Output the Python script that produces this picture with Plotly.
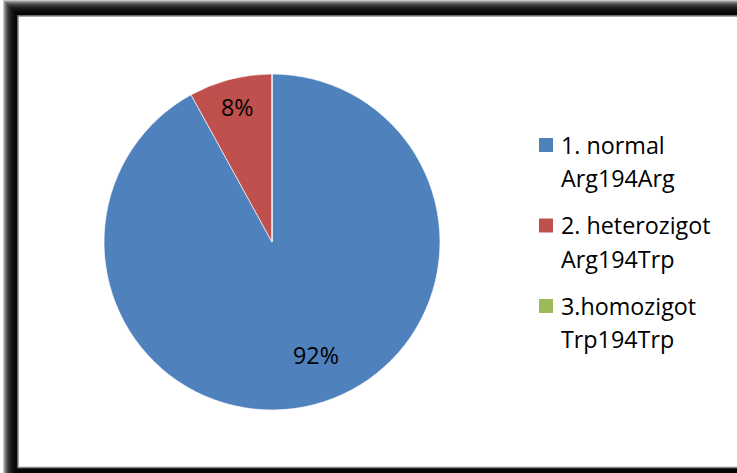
import math
import plotly.graph_objects as go

# Genotype distribution (percent of samples)
labels = ["1. normal<br>Arg194Arg", "2. heterozigot<br>Arg194Trp", "3.homozigot<br>Trp194Trp"]
values = [92, 8, 0]
colors = ["#4F81BD", "#C0504D", "#9BBB59"]

W, H = 737, 473
FONT = "Open Sans"
FS = 23.3

# pie geometry in pixels
CX, CY, R = 272, 242, 168


def px(x):
    return x / W


def py(y):
    return 1 - y / H


fig = go.Figure()
fig.add_trace(go.Pie(
    labels=labels,
    values=values,
    marker=dict(colors=colors, line=dict(color="rgba(255,255,255,0.8)", width=0.8)),
    sort=False,
    direction="clockwise",
    rotation=0,
    textinfo="none",
    hoverinfo="label+percent",
    showlegend=False,
    domain=dict(x=[px(CX - R), px(CX + R)], y=[py(CY + R), py(CY - R)]),
))

shapes = []
# soft dark frame with a shadow gradient on the top and left
for i in range(14):
    shapes.append(dict(
        type="rect", xref="paper", yref="paper", layer="below",
        x0=px(3 + i), y0=py(H + 20), x1=px(W + 20), y1=py(i),
        fillcolor="rgba(0,0,0,0.22)", line=dict(width=0),
    ))
# inner white panel
shapes.append(dict(
    type="rect", xref="paper", yref="paper", layer="below",
    x0=px(18), y0=py(467.5), x1=px(W + 20), y1=py(16),
    fillcolor="white", line=dict(color="#8a8a8a", width=1.5),
))

annotations = []
# percentage labels placed along each slice's mid angle
label_r = [0.72, 0.83, 0.0]
label_shift = [-7, 0, 0]  # degrees
total = sum(values)
start = 0.0
for v, rr, sh in zip(values, label_r, label_shift):
    frac = v / total
    if v > 0:
        mid = math.radians((start + frac / 2) * 360 + sh)
        # clockwise from 12 o'clock
        tx = CX + rr * R * math.sin(mid)
        ty = CY - rr * R * math.cos(mid)
        annotations.append(dict(
            x=px(tx), y=py(ty), xref="paper", yref="paper",
            text=f"{v / total * 100:.0f}%", showarrow=False,
            font=dict(family=FONT, size=FS, color="black"),
            xanchor="center", yanchor="middle",
        ))
    start += frac

# legend: colored squares with two-line labels
LEG_X, LEG_Y0, LEG_STEP, LINE_GAP = 539, 145, 80.5, 33
for k, (lab, col) in enumerate(zip(labels, colors)):
    yc = LEG_Y0 + k * LEG_STEP
    shapes.append(dict(
        type="rect", xref="paper", yref="paper",
        x0=px(LEG_X), x1=px(LEG_X + 14), y0=py(yc + 7), y1=py(yc - 7),
        fillcolor=col, line=dict(width=0),
    ))
    for j, part in enumerate(lab.split("<br>")):
        annotations.append(dict(
            x=px(LEG_X + 20), y=py(yc + j * LINE_GAP), xref="paper", yref="paper",
            text=part, showarrow=False, xanchor="left", yanchor="middle",
            font=dict(family=FONT, size=FS, color="black"),
        ))

fig.update_layout(
    width=W, height=H,
    margin=dict(l=0, r=0, t=0, b=0),
    paper_bgcolor="white",
    plot_bgcolor="white",
    shapes=shapes,
    annotations=annotations,
)

fig.write_html("out.html")
